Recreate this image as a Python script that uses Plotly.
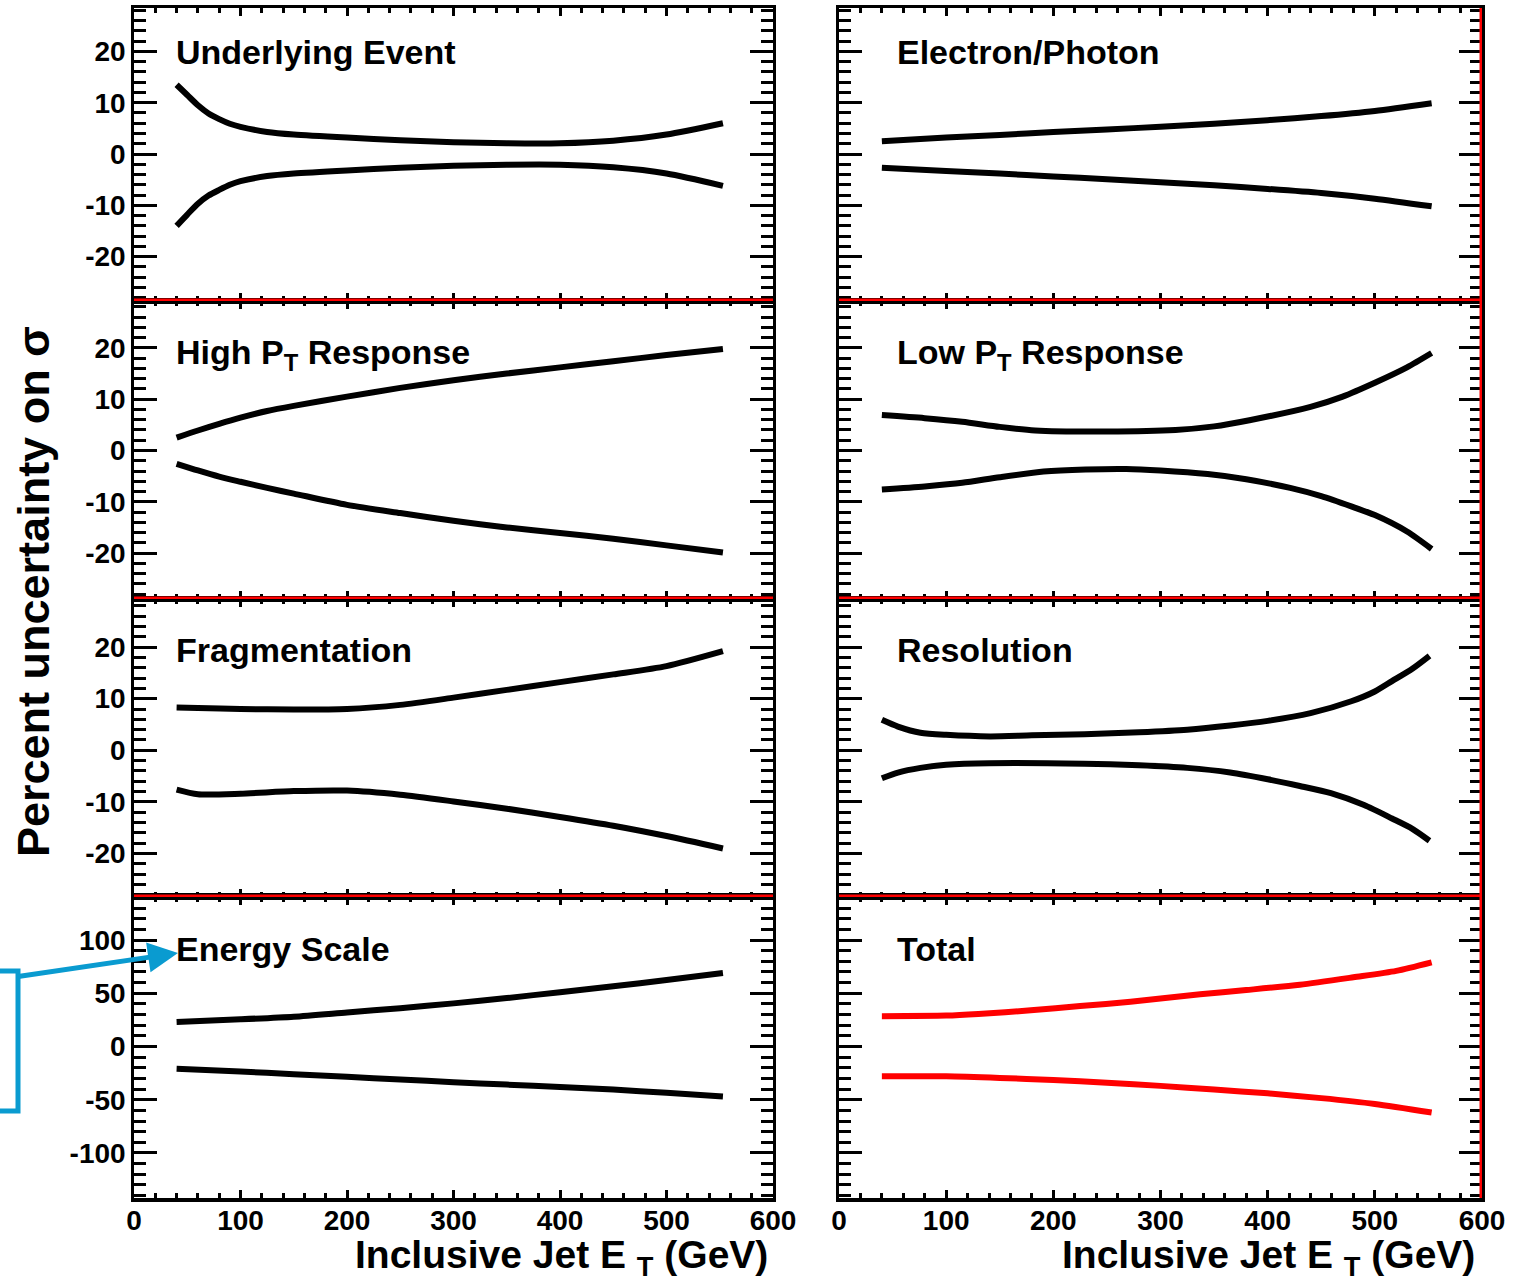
import plotly.graph_objects as go

W, H = 1513, 1278

# ---------------- data (percent uncertainty vs inclusive jet ET in GeV) ----------------
ue_x  = [40, 50, 60, 70, 80, 90, 100, 125, 150, 200, 250, 300, 350, 400, 450, 500, 553]
ue_up = [13.5, 11.5, 9.5, 7.9, 6.8, 5.9, 5.3, 4.3, 3.8, 3.2, 2.7, 2.3, 2.1, 2.1, 2.6, 3.8, 6.0]
ue_dn = [-14.0, -11.8, -9.7, -8.1, -7.0, -6.0, -5.3, -4.3, -3.8, -3.2, -2.7, -2.3, -2.1, -2.1, -2.6, -3.8, -6.2]

ep_x  = [40, 100, 150, 200, 250, 300, 350, 400, 450, 500, 553]
ep_up = [2.5, 3.2, 3.7, 4.3, 4.8, 5.3, 5.9, 6.6, 7.4, 8.4, 9.9]
ep_dn = [-2.7, -3.3, -3.8, -4.4, -4.9, -5.5, -6.1, -6.8, -7.6, -8.7, -10.2]

hpt_x  = [40, 60, 80, 100, 125, 150, 200, 250, 300, 350, 400, 450, 500, 553]
hpt_up = [2.5, 3.9, 5.2, 6.4, 7.7, 8.7, 10.5, 12.2, 13.7, 15.0, 16.2, 17.4, 18.6, 19.8]
hpt_dn = [-2.6, -3.9, -5.1, -6.1, -7.3, -8.4, -10.6, -12.2, -13.7, -15.0, -16.1, -17.2, -18.5, -19.9]

lpt_up_x = [40, 80, 115, 150, 183, 250, 314, 350, 383, 440, 470, 500, 530, 553]
lpt_up   = [6.9, 6.3, 5.6, 4.6, 3.9, 3.7, 4.0, 4.7, 5.9, 8.5, 10.5, 13.2, 16.2, 19.0]
lpt_dn_x = [40, 80, 115, 150, 191, 230, 268, 300, 344, 380, 421, 450, 478, 500, 530, 553]
lpt_dn   = [-7.6, -7.0, -6.3, -5.2, -4.1, -3.7, -3.6, -3.9, -4.6, -5.6, -7.3, -8.9, -10.9, -12.6, -15.8, -19.2]

frag_x  = [40, 60, 100, 150, 200, 250, 300, 350, 400, 450, 500, 553]
frag_up = [8.3, 8.2, 8.0, 7.9, 8.0, 8.8, 10.2, 11.7, 13.2, 14.7, 16.3, 19.2]
frag_dn = [-7.6, -8.5, -8.4, -7.9, -7.8, -8.6, -9.9, -11.3, -12.9, -14.6, -16.6, -19.0]

res_up_x = [40, 55, 76, 100, 141, 180, 229, 280, 325, 365, 400, 440, 478, 500, 516, 535, 551]
res_up   = [5.9, 4.6, 3.4, 3.0, 2.7, 2.9, 3.1, 3.5, 4.0, 4.8, 5.7, 7.2, 9.5, 11.4, 13.4, 15.8, 18.3]
res_dn_x = [40, 55, 76, 100, 140, 229, 280, 325, 365, 400, 430, 459, 490, 516, 535, 551]
res_dn   = [-5.4, -4.3, -3.4, -2.8, -2.5, -2.6, -2.9, -3.4, -4.3, -5.6, -6.9, -8.3, -10.6, -13.2, -15.2, -17.5]

es_x  = [40, 100, 150, 200, 250, 300, 350, 400, 450, 500, 553]
es_up = [23, 25.5, 28, 32, 36, 40.5, 45.5, 51, 56.5, 62.5, 69]
es_dn = [-21, -23.5, -26, -28.5, -31, -33.5, -35.8, -38, -40.5, -43.5, -47]

tot_up_x = [40, 100, 130, 179, 225, 272, 337, 380, 430, 480, 520, 553]
tot_up   = [28.5, 29, 30.5, 34, 38, 42, 49, 53, 58, 65, 71, 79]
tot_dn_x = [40, 100, 150, 200, 250, 300, 350, 400, 450, 500, 553]
tot_dn   = [-28, -28, -29.5, -31.5, -34, -37, -40.5, -44, -48.5, -54, -62]

titles = ["Underlying Event", "Electron/Photon",
          "High P<sub>T</sub> Response", "Low P<sub>T</sub> Response",
          "Fragmentation", "Resolution",
          "Energy Scale", "Total"]

x_ticks = [0, 100, 200, 300, 400, 500, 600]
y_ticks_small = [-20, -10, 0, 10, 20]
y_ticks_big = [-100, -50, 0, 50, 100]

x_title = "Inclusive Jet E <sub>T</sub> (GeV)"
y_title = "Percent uncertainty on σ"

# ---------------- layout helpers ----------------
FONT = "Liberation Sans, Arial, Helvetica, sans-serif"
RED = "#ff0000"
BLUE = "#0a9bd0"


def px(x):
    return x / W


def py(y):
    return 1 - y / H


rows_px = [(8, 301), (301, 599), (599, 897), (897, 1198)]
cols_px = [(134, 773), (839, 1482)]
yranges = [[-28.65, 28.46], [-28.95, 29.14], [-28.4, 29.3], [-142.3, 140.4]]

panels = [
    [(ue_x, ue_up, "black"), (ue_x, ue_dn, "black")],
    [(ep_x, ep_up, "black"), (ep_x, ep_dn, "black")],
    [(hpt_x, hpt_up, "black"), (hpt_x, hpt_dn, "black")],
    [(lpt_up_x, lpt_up, "black"), (lpt_dn_x, lpt_dn, "black")],
    [(frag_x, frag_up, "black"), (frag_x, frag_dn, "black")],
    [(res_up_x, res_up, "black"), (res_dn_x, res_dn, "black")],
    [(es_x, es_up, "black"), (es_x, es_dn, "black")],
    [(tot_up_x, tot_up, RED), (tot_dn_x, tot_dn, RED)],
]

fig = go.Figure()
layout = dict(
    width=W, height=H,
    margin=dict(l=0, r=0, t=0, b=0, pad=0, autoexpand=False),
    paper_bgcolor="white", plot_bgcolor="white",
    showlegend=False,
    font=dict(family=FONT, color="black"),
)

tickfont = dict(family=FONT, size=28, color="black", weight="bold")
annotations = []
shapes = []

for r in range(4):
    for c in range(2):
        i = r * 2 + c + 1
        sfx = "" if i == 1 else str(i)
        for (xs, ys, col) in panels[i - 1]:
            fig.add_trace(go.Scatter(
                x=xs, y=ys, mode="lines",
                line=dict(color=col, width=6, shape="spline", smoothing=0.7),
                xaxis="x" + sfx, yaxis="y" + sfx, hoverinfo="skip"))
        big = (r == 3)
        yt = y_ticks_big if big else y_ticks_small
        layout["xaxis" + sfx] = dict(
            domain=[px(cols_px[c][0]), px(cols_px[c][1])],
            range=[0, 600], anchor="y" + sfx, automargin=False,
            showline=True, linewidth=(4 if big else 2.5), linecolor="black", mirror="ticks",
            ticks="inside", ticklen=8, tickwidth=3, tickcolor="black",
            tickmode="array", tickvals=x_ticks, ticktext=[str(v) for v in x_ticks],
            showticklabels=big, tickfont=tickfont, ticklabelstandoff=-6,
            showgrid=False, zeroline=False, fixedrange=True,
            minor=dict(tickmode="linear", tick0=0, dtick=20, ticks="inside",
                       ticklen=5, tickwidth=2.5, tickcolor="black", showgrid=False),
        )
        layout["yaxis" + sfx] = dict(
            domain=[py(rows_px[r][1]), py(rows_px[r][0])],
            range=yranges[r], anchor="x" + sfx, automargin=False,
            showline=True, linewidth=2.5, linecolor="black", mirror="ticks",
            ticks="inside", ticklen=23, tickwidth=3, tickcolor="black",
            tickmode="array", tickvals=yt, ticktext=[str(v) for v in yt],
            showticklabels=(c == 0), tickfont=tickfont,
            showgrid=False, zeroline=False, fixedrange=True,
            minor=dict(tickmode="linear", tick0=0, dtick=(10 if big else 2), ticks="inside",
                       ticklen=12, tickwidth=2.5, tickcolor="black", showgrid=False),
        )
        # panel title
        tx = 174 if c == 0 else 895
        ty = [31.5, 330.5, 628.5, 927.5][r]
        annotations.append(dict(
            x=px(tx), y=py(ty), xref="paper", yref="paper",
            xanchor="left", yanchor="top", showarrow=False,
            text=titles[i - 1],
            font=dict(family=FONT, size=34, color="black", weight="bold")))

# red frame lines (pad borders)
for (x0, x1) in cols_px:
    for e in (301, 599, 897):
        shapes.append(dict(type="line", xref="paper", yref="paper",
                           x0=px(x0), x1=px(x1), y0=py(e - 1.25), y1=py(e - 1.25),
                           line=dict(color=RED, width=2.5), layer="above"))
shapes.append(dict(type="line", xref="paper", yref="paper",
                   x0=px(1482 - 1.25), x1=px(1482 - 1.25), y0=py(8), y1=py(1198),
                   line=dict(color=RED, width=2.5), layer="above"))

# blue box (edited overlay)
shapes.append(dict(type="rect", xref="paper", yref="paper",
                   x0=px(-20), x1=px(18), y0=py(1111), y1=py(971),
                   line=dict(color=BLUE, width=5), fillcolor="rgba(0,0,0,0)", layer="above"))
annotations.append(dict(
    x=px(178), y=py(953), xref="paper", yref="paper",
    ax=15 - 178, ay=977 - 953, axref="pixel", ayref="pixel",
    text="", showarrow=True, arrowhead=2, arrowsize=1.2, arrowwidth=5,
    arrowcolor=BLUE, standoff=0))

# axis titles
for xr in (770, 1477):
    annotations.append(dict(
        x=px(xr), y=py(1231), xref="paper", yref="paper",
        xanchor="right", yanchor="top", showarrow=False, text=x_title,
        font=dict(family=FONT, size=39, color="black", weight="bold")))
annotations.append(dict(
    x=px(33), y=py(592), xref="paper", yref="paper",
    xanchor="center", yanchor="middle", showarrow=False, text=y_title,
    textangle=-90,
    font=dict(family=FONT, size=45, color="black", weight="bold")))

layout["annotations"] = annotations
layout["shapes"] = shapes
fig.update_layout(**layout)

fig.write_html("out.html")
